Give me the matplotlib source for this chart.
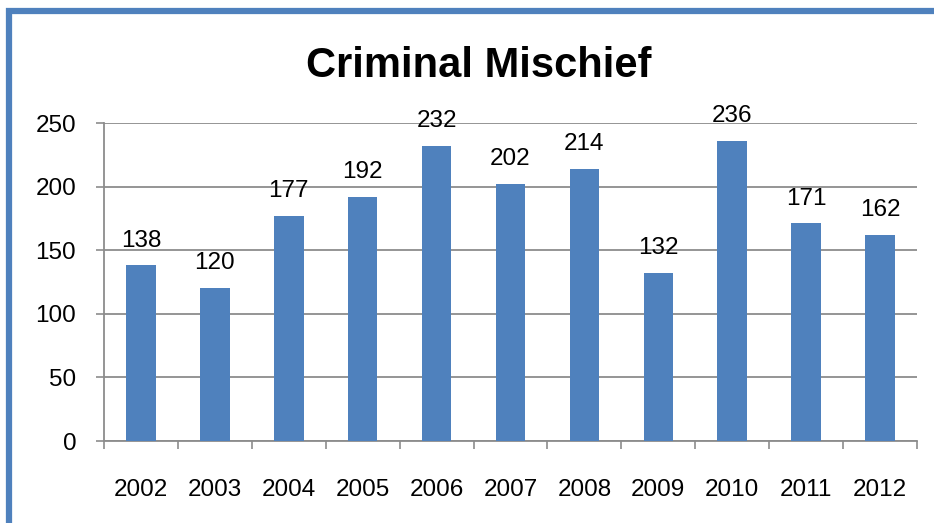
"""Criminal Mischief incidents per year, bar chart."""

import matplotlib
matplotlib.use("Agg")
import matplotlib.pyplot as plt
from matplotlib.patches import Rectangle

YEARS = ["2002", "2003", "2004", "2005", "2006", "2007",
         "2008", "2009", "2010", "2011", "2012"]
COUNTS = [138, 120, 177, 192, 232, 202, 214, 132, 236, 171, 162]
Y_TICKS = [0, 50, 100, 150, 200, 250]

BLUE = "#4F81BD"
GRID = "#8C8C8C"

plt.rcParams["font.family"] = ["Liberation Sans", "DejaVu Sans"]

W, H = 934, 523
fig = plt.figure(figsize=(W / 100, H / 100), dpi=100)

# blue frame, cut off on the right and bottom like the screenshot
fig.patches.append(Rectangle((9 / W, -0.1), 1.2, 1 - 11 / H + 0.1,
                             transform=fig.transFigure, fill=False,
                             edgecolor=BLUE, linewidth=4.5))

ax = fig.add_axes([104 / W, 1 - 441 / H, (917 - 104) / W, (441 - 123) / H])
x = list(range(len(YEARS)))
bars = ax.bar(x, COUNTS, width=0.4, color=BLUE, zorder=3)
for b, v in zip(bars, COUNTS):
    ax.annotate(str(v), (b.get_x() + b.get_width() / 2, v),
                xytext=(0, 10), textcoords="offset points",
                ha="center", va="bottom", fontsize=17.5)

ax.set_xlim(-0.5, len(YEARS) - 0.5)
ax.set_ylim(0, 250)
ax.set_yticks(Y_TICKS)
ax.tick_params(axis="y", length=6, width=1.2, color=GRID, pad=14, labelsize=17.5)

# labels under the bars, tick marks between categories
ax.set_xticks(x)
ax.set_xticklabels(YEARS)
ax.tick_params(axis="x", which="major", length=0, pad=27, labelsize=17.5)
ax.set_xticks([i - 0.5 for i in range(len(YEARS) + 1)], minor=True)
ax.tick_params(axis="x", which="minor", length=6, width=1.2, color=GRID)

ax.grid(axis="y", color=GRID, linewidth=1.3, zorder=0)
for s in ("top", "right"):
    ax.spines[s].set_visible(False)
for s in ("left", "bottom"):
    ax.spines[s].set_color(GRID)
    ax.spines[s].set_linewidth(1.3)

fig.text(479 / W, 1 - 77 / H, "Criminal Mischief", ha="center", va="baseline",
         fontsize=30, fontweight="bold")

fig.savefig("out.png", dpi=100)
